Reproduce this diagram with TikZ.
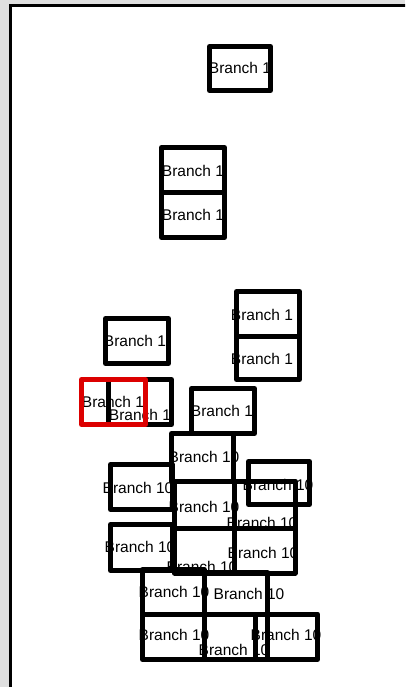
\documentclass[tikz,border=0pt]{standalone}
\usepackage{fontspec}
\setmainfont{Liberation Sans}
\begin{document}
\begin{tikzpicture}[x=1pt,y=-1pt,
  bx/.style={draw=black, line width=5pt, line join=round},
  redbx/.style={draw={rgb,255:red,220;green,0;blue,0}, line width=5pt, line join=round},
  lbl/.style={font=\fontsize{15.5}{18}\selectfont, inner sep=0pt, text=black}]
\useasboundingbox (0,0) rectangle (405,687);
\begin{scope}
\clip (0,0) rectangle (405,687);
\fill[gray!25] (0,0) rectangle (405,687);
\draw[line width=3pt, fill=white] (10,5.7) rectangle (430,720);
\end{scope}
% texts
\node[lbl] (t1) at (240,68) {Branch 1};
\node[lbl] (t2) at (193,171) {Branch 1};
\node[lbl] (t3) at (193,215) {Branch 1};
\node[lbl] (t4) at (135,341) {Branch 1};
\node[lbl] (t5) at (262,315) {Branch 1};
\node[lbl] (t6) at (262,359) {Branch 1};
\node[lbl] (t7) at (113,402) {Branch 1};
\node[lbl] (t8) at (140,415) {Branch 1};
\node[lbl] (t9) at (222,411) {Branch 1};
\node[lbl] (t10) at (204,457) {Branch 10};
\node[lbl] (t11) at (138,488) {Branch 10};
\node[lbl] (t12) at (278,485) {Branch 10};
\node[lbl] (t13) at (204,507) {Branch 10};
\node[lbl] (t14) at (262,523) {Branch 10};
\node[lbl] (t15) at (140,547) {Branch 10};
\node[lbl] (t16) at (263,553) {Branch 10};
\node[lbl] (t17) at (202,567) {Branch 10};
\node[lbl] (t18) at (174,592) {Branch 10};
\node[lbl] (t19) at (249,594) {Branch 10};
\node[lbl] (t20) at (174,635) {Branch 10};
\node[lbl] (t21) at (286,635) {Branch 10};
\node[lbl] (t22) at (234,650) {Branch 10};
% boxes
\draw[bx] (209.5,46.5) rectangle (270.5,90.5);
\draw[bx] (161.5,147.5) rectangle (224.5,192);
\draw[bx] (161.5,192) rectangle (224.5,237.5);
\draw[bx] (105.5,318.5) rectangle (168.5,363.5);
\draw[bx] (236.5,291.5) rectangle (299.5,336);
\draw[bx] (236.5,336) rectangle (299.5,379.5);
\draw[bx] (108.5,379.5) rectangle (171.5,424.5);
\draw[redbx] (81.5,379.5) rectangle (145.5,424.5);
\draw[bx] (191.5,388.5) rectangle (254.5,433.5);
\draw[bx] (171.5,433.5) rectangle (233.5,481);
\draw[bx] (110.5,464.5) rectangle (172.5,509.5);
\draw[bx] (248.5,461.5) rectangle (309.5,504.5);
\draw[bx] (174.5,481) rectangle (234.5,528);
\draw[bx] (234.5,481) rectangle (295,528);
\draw[bx] (110.5,524.5) rectangle (172.5,570.5);
\draw[bx] (174.5,528) rectangle (234.5,573);
\draw[bx] (234.5,528) rectangle (295,573);
\draw[bx] (142.5,569.5) rectangle (204,614);
\draw[bx] (204,572.5) rectangle (267.5,614);
\draw[bx] (142.5,614) rectangle (204,659.5);
\draw[bx] (204,614) rectangle (267.5,659.5);
\draw[bx] (255.5,614) rectangle (317.5,659.5);
\end{tikzpicture}
\end{document}
